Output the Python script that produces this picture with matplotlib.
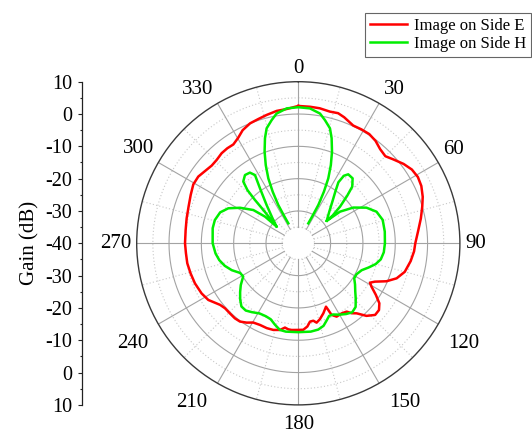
import numpy as np
import matplotlib
matplotlib.use("Agg")
import matplotlib.pyplot as plt
import matplotlib.transforms as mtransforms
from matplotlib.ticker import FixedLocator, FixedFormatter, MultipleLocator

plt.rcParams['font.family'] = ['Liberation Serif', 'DejaVu Serif']

# ---------------- data ----------------
angle_ticks = [0, 30, 60, 90, 120, 150, 180, 210, 240, 270, 300, 330]
gain_tick_labels = [10, 0, -10, -20, -30, -40, -30, -20, -10, 0, 10]
r_min, r_max = -40, 10

series_labels = ["Image on Side E", "Image on Side H"]

red_theta = [0, 5, 9, 13.5, 17, 20, 25, 29, 33, 37, 41, 45, 48.5, 53, 57, 61, 65, 69.5,
             73.5, 78.5, 84, 90, 94, 99, 105, 109.6, 113.3, 116.6, 118.8, 120.6, 123.6,
             126.5, 129.6, 133, 136.8, 140.2, 142.7, 144.7, 148.2, 152.4, 155.1, 155.8,
             156.4, 160.3, 164.1, 167, 169, 171.5, 173.8, 176.7, 180, 184.4, 186.6, 189,
             191.9, 196.1, 200.4, 205.1, 209.6, 213.1, 216.7, 220.2, 224.3, 228.4, 231.8,
             237.8, 242.6, 248.8, 254.4, 259.8, 265, 270, 276.7, 282.6, 288.5, 294.2,
             299.3, 303.7, 307.8, 311.9, 315.6, 319.6, 323.2, 326.7, 330.4, 333.8, 338.1,
             342.2, 346.1, 350.7, 355, 360]
red_gain = [2.5, 2.4, 2.3, 1.9, 2.1, 1.5, 0.2, 0.3, 0.3, -0.3, -1.4, -1.9, -0.8, 0.8, 1.9,
            2.3, 2.0, 1.1, 0.0, -1.3, -2.7, -3.8, -4.1, -4.8, -5.9, -7.7, -10.3, -13.5,
            -14.7, -13.7, -11.2, -8.8, -7.6, -7.5, -9.2, -11.8, -12.8, -14.1, -14.5, -14.4,
            -15.6, -17.4, -18.6, -17.0, -15.6, -14.8, -15.6, -15.5, -14.1, -13.2, -13.2,
            -13.1, -13.2, -13.6, -12.6, -12.1, -12.0, -12.1, -11.8, -10.7, -9.8, -9.6,
            -9.7, -9.7, -9.2, -7.1, -6.3, -5.7, -5.4, -5.1, -5.1, -4.95, -4.9, -4.6, -4.2,
            -3.5, -2.75, -2.8, -3.5, -4.0, -3.9, -3.4, -3.3, -3.4, -2.4, -1.0, 0.0, 0.4,
            0.9, 1.5, 1.7, 2.5]

green_main_theta = [-26.6, -27.4, -27.6, -26.4, -24.8, -22.6, -20.2, -17.6, -15.4, -12.2,
                    -9.5, -4.9, 0, 4.9, 9.5, 12.2, 15.4, 17.6, 20.2, 22.6, 24.8, 26.4,
                    27.6, 27.4, 26.6]
green_main_gain = [-33.1, -30.4, -26.6, -22.2, -17.9, -13.8, -9.8, -5.9, -3.1, -1.0, 0.7,
                   1.9, 2.1, 1.9, 0.7, -1.0, -3.1, -5.9, -9.8, -13.8, -17.9, -22.2, -26.6,
                   -30.4, -33.1]

green_side_theta = [51.7, 44.4, 39.2, 35.6, 33.3, 34.0, 35.9, 39.9, 43.6, 45.8, 48.7, 51.1,
                    51.7, 52.8, 57.0, 62.4, 68.0, 74.5, 82.3, 90, 96, 101, 105, 109, 113,
                    118, 122, 126, 130, 134, 138, 142, 146, 150, 154, 157, 160, 163, 167,
                    172, 180, 188, 192, 196, 200, 204, 209, 214, 218, 222, 226, 230, 234,
                    239, 243, 248, 253, 258, 263, 270, 280, 285.6, 291.6, 296.6, 301.4,
                    306.5, 308.7, 307.6, 313.6, 315.0, 316.3, 318.3, 322.0, 325.6, 327.6,
                    325.1, 320.4, 313.0, 307.6]
green_side_gain = [-28.8, -26.3, -23.3, -20.3, -17.4, -14.8, -13.65, -13.8, -15.8, -18.9,
                   -22.8, -26.4, -28.8, -23.8, -19.7, -16.2, -13.9, -12.9, -13.0, -13.2,
                   -13.4, -14.0, -15.2, -17.0, -18.7, -19.6, -19.6, -18.3, -17.0, -15.3,
                   -13.5, -12.9, -13.6, -14.5, -15.5, -15.6, -14.5, -13.3, -12.6, -12.4,
                   -12.5, -12.4, -12.6, -13.8, -15.0, -15.3, -15.2, -14.3, -13.6, -13.7,
                   -15.0, -16.5, -18.0, -20.1, -19.8, -17.8, -16.2, -15.0, -14.2, -13.5,
                   -13.1, -13.2, -14.0, -15.8, -18.9, -22.7, -26.8, -31.5, -25.1, -21.0,
                   -17.2, -14.4, -13.2, -13.5, -15.0, -19.3, -24.6, -29.4, -31.5]

# ---------------- figure ----------------
W, H, DPI = 532, 436, 100
fig = plt.figure(figsize=(W / DPI, H / DPI), dpi=DPI)

cx, cy, R = 298.3, 243.3, 161.6  # pixel geometry of the polar disc
pl = (cx - R) / W
pb = 1 - (cy + R) / H
pw = 2 * R / W
ph = 2 * R / H

ax = fig.add_axes([pl, pb, pw, ph], projection='polar')
ax.set_theta_zero_location('N')
ax.set_theta_direction(-1)
ax.set_ylim(r_min, r_max)
ax.grid(False)
ax.set_xticks([])
ax.set_yticks([])
ax.spines['polar'].set_color('#3a3a3a')
ax.spines['polar'].set_linewidth(1.0)

# grid
tt = np.linspace(0, 2 * np.pi, 721)
for r in [-30, -20, -10, 0]:
    ax.plot(tt, np.full_like(tt, r), color='#a3a3a3', lw=0.8, zorder=1)
for r in [-35, -25, -15, -5, 5]:
    ax.plot(tt, np.full_like(tt, r), color='#c8c8c8', lw=0.8, ls=(0, (1, 2)), zorder=1)
for a in range(0, 360, 30):
    ax.plot([np.deg2rad(a)] * 2, [-35, r_max], color='#a3a3a3', lw=0.8, zorder=1)
for a in range(15, 360, 30):
    ax.plot([np.deg2rad(a)] * 2, [-35, r_max], color='#c8c8c8', lw=0.8,
            ls=(0, (1, 2)), zorder=1)

# data
l_red, = ax.plot(np.deg2rad(red_theta), red_gain, color='#ff0000', lw=1.8,
                 zorder=3, label=series_labels[0])
l_green, = ax.plot(np.deg2rad(green_main_theta), green_main_gain, color='#00ee00',
                   lw=1.8, zorder=4, label=series_labels[1])
ax.plot(np.deg2rad(green_side_theta), green_side_gain, color='#00ee00', lw=1.8, zorder=4)

# angle labels
for a in angle_ticks:
    s, c = np.sin(np.deg2rad(a)), np.cos(np.deg2rad(a))
    if abs(c) < 0.01:
        va, dy = 'center', 0
    elif c > 0:
        va, dy = 'baseline', 9
    else:
        va, dy = 'top', -10
    if abs(s) < 0.01:
        ha, dx = 'center', 0
    elif s > 0:
        ha = 'left'
        dx = 5.5 if abs(c) < 0.01 else (4.5 if c > 0 else 10)
    else:
        ha = 'right'
        dx = -(5.5 if abs(c) < 0.01 else (4.5 if c > 0 else 10))
    tr = mtransforms.offset_copy(ax.transData, fig=fig, x=dx * 72 / DPI,
                                 y=dy * 72 / DPI, units='points')
    ax.text(np.deg2rad(a), r_max, str(a), transform=tr, ha=ha, va=va,
            fontsize=15, clip_on=False)

# left gain axis
axg = fig.add_axes([82 / W, pb, 0.0005, ph])
axg.set_ylim(-(r_max - r_min), r_max - r_min)
mid = len(gain_tick_labels) // 2
pos = [(lab - r_min) * (1 if i <= mid else -1) for i, lab in enumerate(gain_tick_labels)]
axg.yaxis.set_major_locator(FixedLocator(pos))
axg.yaxis.set_major_formatter(FixedFormatter([str(v) for v in gain_tick_labels]))
axg.yaxis.set_minor_locator(MultipleLocator(5))
for sp in ['top', 'bottom', 'right']:
    axg.spines[sp].set_visible(False)
axg.spines['left'].set_color('#222222')
axg.spines['left'].set_linewidth(0.9)
axg.set_xticks([])
axg.patch.set_alpha(0)
axg.tick_params(axis='y', which='major', direction='out', length=3.2, width=0.8,
                pad=4, labelsize=14.5, color='#222222')
axg.tick_params(axis='y', which='minor', direction='out', length=1.8, width=0.8,
                color='#222222')

fig.text(30 / W, 1 - 243 / H, 'Gain (dB)', rotation=90, fontsize=15,
         ha='center', va='center')

leg = fig.legend([l_red, l_green], series_labels, loc='upper right',
                 bbox_to_anchor=(531 / W, 1 - 13 / H), bbox_transform=fig.transFigure,
                 frameon=True, fancybox=False, edgecolor='#404040', borderpad=0.3,
                 handlelength=2.2, handletextpad=0.42, labelspacing=0.1,
                 borderaxespad=0, fontsize=12)
leg.get_frame().set_linewidth(0.8)

fig.savefig('out.png', dpi=DPI)
